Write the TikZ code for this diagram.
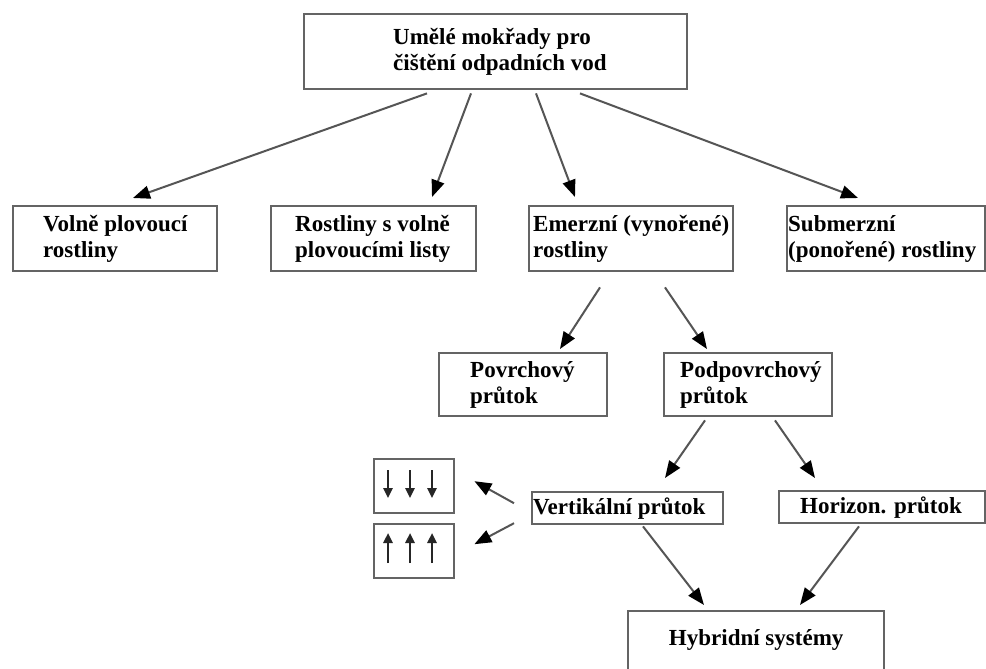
\documentclass[tikz,border=0pt]{standalone}
\usepackage{fontspec}
\setmainfont{Liberation Serif}
\usetikzlibrary{arrows.meta,calc}
\definecolor{frame}{RGB}{100,100,100}
\definecolor{linegray}{RGB}{85,85,85}

\begin{document}
\begin{tikzpicture}[x=1pt, y=-1pt,
    box/.style={draw=frame, line width=2.4pt, anchor=north west, inner sep=0pt},
    lbl/.style={anchor=west, align=left, inner sep=0pt, font=\fontsize{23}{26}\selectfont\bfseries},
    arr/.style={draw=linegray, line width=2pt, -{Triangle[length=17pt,width=13pt,color=black]}},
    tick/.style={draw=black!85, line width=2.4pt, -{Triangle[length=10pt,width=9pt]}}]
  \useasboundingbox[fill=white] (0,0) rectangle (986,669);

  % boxes
  \node[box, minimum width=383pt, minimum height=75pt] (wet) at (303,13) {};
  \node[box, minimum width=204pt, minimum height=65pt] (volne) at (12,205) {};
  \node[box, minimum width=205pt, minimum height=65pt] (listy) at (270,205) {};
  \node[box, minimum width=204pt, minimum height=65pt] (emerz) at (528,205) {};
  \node[box, minimum width=198pt, minimum height=65pt] (submerz) at (786,205) {};
  \node[box, minimum width=168pt, minimum height=63pt] (povrch) at (438,352) {};
  \node[box, minimum width=168pt, minimum height=63pt] (podpov) at (663,352) {};
  \node[box, minimum width=191pt, minimum height=32pt] (vert) at (531,491) {};
  \node[box, minimum width=206pt, minimum height=32pt] (horiz) at (778,490) {};
  \node[box, minimum width=256pt, minimum height=70pt] (hybrid) at (627,610) {};
  \node[box, minimum width=80pt, minimum height=54pt] (down) at (373,458) {};
  \node[box, minimum width=80pt, minimum height=54pt] (up) at (373,523) {};

  % texts
  \node[lbl] (wettxt) at ($(wet.west)+(90,0)$) {Umělé mokřady pro\\čištění odpadních vod};
  \node[lbl] (volnetxt) at ($(volne.west)+(31,0)$) {Volně plovoucí\\rostliny};
  \node[lbl] (listytxt) at ($(listy.west)+(25,0)$) {Rostliny s volně\\plovoucími listy};
  \node[lbl] (emerztxt) at ($(emerz.west)+(5,0)$) {Emerzní (vynořené)\\rostliny};
  \node[lbl] (submerztxt) at ($(submerz.west)+(2,0)$) {Submerzní\\(ponořené) rostliny};
  \node[lbl] (povrchtxt) at ($(povrch.west)+(32,0)$) {Povrchový\\průtok};
  \node[lbl] (podpovtxt) at ($(podpov.west)+(17,0)$) {Podpovrchový\\průtok};
  \node[lbl] (verttxt) at ($(vert.west)+(2,0)$) {Vertikální průtok};
  \node[lbl] (horiztxt) at ($(horiz.west)+(22,0)$) {Horizon. průtok};
  \node[lbl, anchor=base] (hybridtxt) at ($(hybrid.north)+(0,35)$) {Hybridní systémy};

  % arrows inside the small boxes
  \foreach \dx in {15,37,59} {
    \draw[tick] ($(down.north west)+(\dx,12)$) -- ++(0,28);
    \draw[tick] ($(up.north west)+(\dx,40)$) -- ++(0,-30);
  }

  % connectors
  \draw[arr] ($(wet.south west)+(124,3)$) -- ($(volne.north west)+(121,-7)$);
  \draw[arr] ($(wet.south west)+(168,3)$) -- ($(listy.north west)+(162,-8)$);
  \draw[arr] ($(wet.south west)+(233,3)$) -- ($(emerz.north west)+(47,-8)$);
  \draw[arr] ($(wet.south west)+(277,3)$) -- ($(submerz.north west)+(72,-7)$);
  \draw[arr] ($(emerz.south west)+(72,15)$) -- ($(povrch.north west)+(122,-3)$);
  \draw[arr] ($(emerz.south west)+(137,15)$) -- ($(podpov.north west)+(44,-3)$);
  \draw[arr] ($(podpov.south west)+(42,3)$) -- ($(vert.north west)+(134,-13)$);
  \draw[arr] ($(podpov.south west)+(112,3)$) -- ($(horiz.north west)+(37,-12)$);
  \draw[arr] ($(vert.west)+(-17,-5)$) -- ($(down.east)+(19,-5)$);
  \draw[arr] ($(vert.west)+(-17,15)$) -- ($(up.east)+(19,-7)$);
  \draw[arr] ($(vert.south west)+(112,1)$) -- ($(hybrid.north west)+(77,-5)$);
  \draw[arr] ($(horiz.south west)+(81,2)$) -- ($(hybrid.north west)+(173,-5)$);
\end{tikzpicture}
\end{document}
